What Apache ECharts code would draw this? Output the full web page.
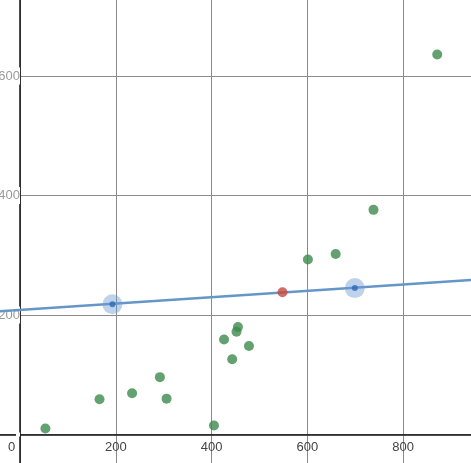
<!DOCTYPE html>
<html>
<head>
<meta charset="utf-8">
<script src="https://cdn.jsdelivr.net/npm/echarts@6/dist/echarts.min.js"></script>
<style>
html,body{margin:0;padding:0;background:#fff;}
#c{width:471px;height:463px;}
</style>
</head>
<body>
<div id="c"></div>
<script>
// Data
var greenX = [53, 166, 234, 292, 306, 405, 426, 443, 452, 455, 478, 601, 659, 738, 871];
var greenY = [10, 59, 69, 96, 60, 15, 159, 126, 172, 180, 148, 293, 302, 376, 636];
var redPoint = [548, 238];
var handleX = [193, 699];
var handleY = [218, 245];
var lineX = [-50, 950];
var lineY = [206, 259];
var xTicks = [0, 200, 400, 600, 800];
var yTicks = [200, 400, 600];

function zip(a, b) { return a.map(function (v, i) { return [v, b[i]]; }); }

var chart = echarts.init(document.getElementById('c'), null, { renderer: 'canvas' });
chart.setOption({
  animation: false,
  backgroundColor: '#fff',
  grid: { left: -75.8, right: -28, top: -43.5, bottom: -91, containLabel: false, outerBoundsMode: 'none' },
  xAxis: {
    type: 'value', min: -200, max: 1000, interval: 200,
    position: 'bottom', offset: -119.5,
    axisLine: { show: true, onZero: false, lineStyle: { color: '#111', width: 1.5 } },
    axisTick: { show: false },
    splitLine: { show: true, lineStyle: { color: '#8a8a8a', width: 1 } },
    axisLabel: {
      margin: 6, fontSize: 13, color: '#444', fontFamily: 'Liberation Sans, Arial, sans-serif',
      formatter: function (v) {
        if (xTicks.indexOf(v) < 0) return '';
        if (v === 0) return '{z|0}';
        return String(v);
      },
      rich: { z: { fontSize: 13, color: '#444', padding: [0, 17, 0, 0] } }
    }
  },
  yAxis: {
    type: 'value', min: -200, max: 800, interval: 200,
    position: 'left', offset: -95.8,
    axisLine: { show: true, onZero: false, lineStyle: { color: '#111', width: 1.5 } },
    axisTick: { show: false },
    splitLine: { show: true, lineStyle: { color: '#8a8a8a', width: 1 } },
    axisLabel: {
      margin: 0, fontSize: 13, color: '#9a9a9a', fontFamily: 'Liberation Sans, Arial, sans-serif',
      backgroundColor: '#fff', padding: [2, 0, 2, 4],
      formatter: function (v) { return yTicks.indexOf(v) < 0 ? '' : String(v); }
    }
  },
  series: [
    {
      type: 'line', data: zip(lineX, lineY), showSymbol: false, symbol: 'none',
      lineStyle: { color: '#6496c8', width: 2.5 }, z: 2, silent: true
    },
    {
      type: 'scatter', data: zip(greenX, greenY), symbolSize: 10,
      itemStyle: { color: '#3d8a4c' }, z: 3
    },
    {
      type: 'scatter', data: zip(handleX, handleY), symbolSize: 20,
      itemStyle: { color: 'rgba(110,152,212,0.55)' }, z: 3
    },
    {
      type: 'scatter', data: zip(handleX, handleY), symbolSize: 6,
      itemStyle: { color: '#2d6cb5' }, z: 4
    },
    {
      type: 'scatter', data: [redPoint], symbolSize: 10,
      itemStyle: { color: '#c8473e' }, z: 4
    }
  ]
});
</script>
</body>
</html>
